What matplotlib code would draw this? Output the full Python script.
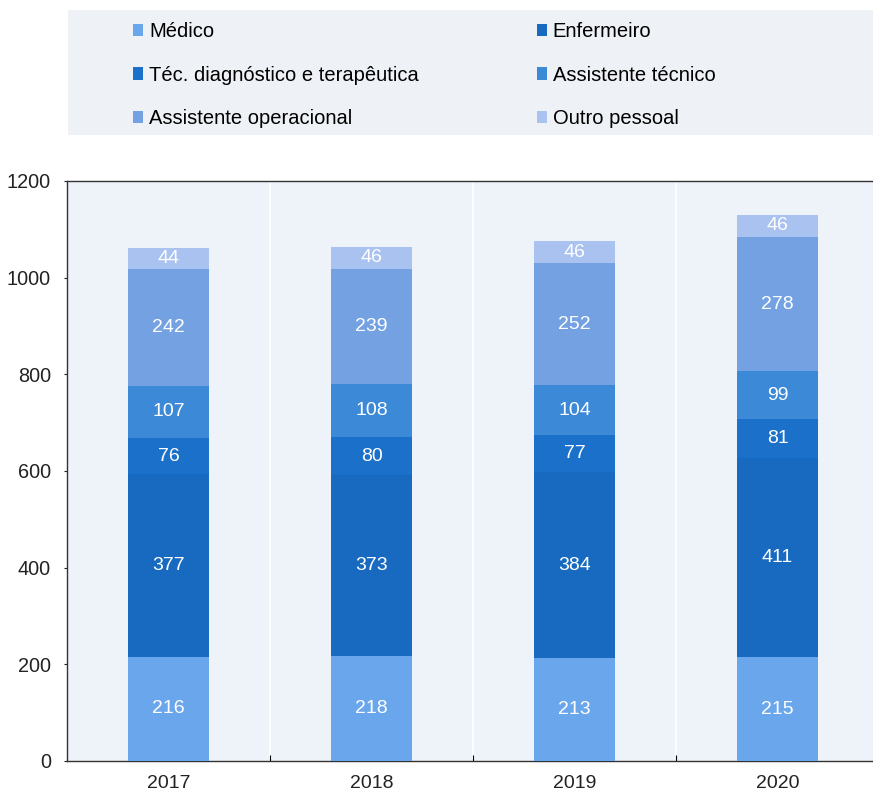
import matplotlib
matplotlib.use("Agg")
import matplotlib.pyplot as plt
from matplotlib.patches import Rectangle, Patch
import numpy as np

plt.rcParams['font.family'] = ['Liberation Sans', 'DejaVu Sans']

years = ["2017", "2018", "2019", "2020"]
categories = ["Médico", "Enfermeiro", "Téc. diagnóstico e terapêutica",
              "Assistente técnico", "Assistente operacional", "Outro pessoal"]
medico = [216, 218, 213, 215]
enfermeiro = [377, 373, 384, 411]
tec_diag = [76, 80, 77, 81]
assist_tecnico = [107, 108, 104, 99]
assist_operacional = [242, 239, 252, 278]
outro = [44, 46, 46, 46]
series = [medico, enfermeiro, tec_diag, assist_tecnico, assist_operacional, outro]
colors = ["#6aa6ec", "#176abf", "#1b71c9", "#3c89d8", "#73a1e2", "#a9c2f0"]
y_ticks = [0, 200, 400, 600, 800, 1000, 1200]

W, H = 873, 798
fig = plt.figure(figsize=(W / 100, H / 100), dpi=100)
fig.patch.set_facecolor("white")

# legend panel background
fig.patches.append(Rectangle((68 / W, 1 - 135 / H), (W - 68) / W, 125 / H,
                             transform=fig.transFigure, facecolor="#eef1f5",
                             edgecolor="none", zorder=0))

ax = fig.add_axes([67 / W, 37 / H, 812 / W, 580 / H])
ax.set_facecolor("#eef3f9")

x = np.arange(len(years))
bottom = np.zeros(len(years))
for vals, col in zip(series, colors):
    vals = np.array(vals, dtype=float)
    ax.bar(x, vals, width=0.4, bottom=bottom, color=col, edgecolor="none", zorder=3)
    for xi, b, v in zip(x, bottom, vals):
        ax.text(xi, b + v / 2, f"{int(v)}", ha="center", va="center",
                color="white", fontsize=14, zorder=4)
    bottom += vals

ax.set_xlim(-0.5, len(years) - 0.5)
ax.set_ylim(0, 1200)
ax.set_yticks(y_ticks)
ax.set_yticklabels([str(t) for t in y_ticks])
ax.tick_params(axis="y", labelsize=14.3, length=2.5, width=0.8, pad=9, colors="#222222")
ax.set_xticks(x)
ax.set_xticklabels(years)
ax.tick_params(axis="x", labelsize=14, length=0, pad=10, colors="#222222")
ax.set_xticks(np.arange(len(years) - 1) + 0.5, minor=True)
ax.tick_params(axis="x", which="minor", direction="in", length=4, width=0.8)
ax.grid(True, axis="x", which="minor", color="white", linewidth=1.2, zorder=1)

for side in ["left", "bottom", "top"]:
    ax.spines[side].set_color("#333333")
    ax.spines[side].set_linewidth(1.0)
ax.spines["right"].set_visible(False)

handles = [Patch(facecolor=c, edgecolor="none") for c in colors]
order = [0, 2, 4, 1, 3, 5]
fig.legend([handles[i] for i in order], [categories[i] for i in order],
           ncol=2, loc="upper left", bbox_to_anchor=(133 / W, 1 - 22 / H),
           frameon=False, fontsize=14.5, handlelength=0.5, handleheight=0.55,
           handletextpad=0.3, labelspacing=1.22, columnspacing=5.85,
           borderaxespad=0, borderpad=0)

fig.savefig("out.png", dpi=100, facecolor="white")
